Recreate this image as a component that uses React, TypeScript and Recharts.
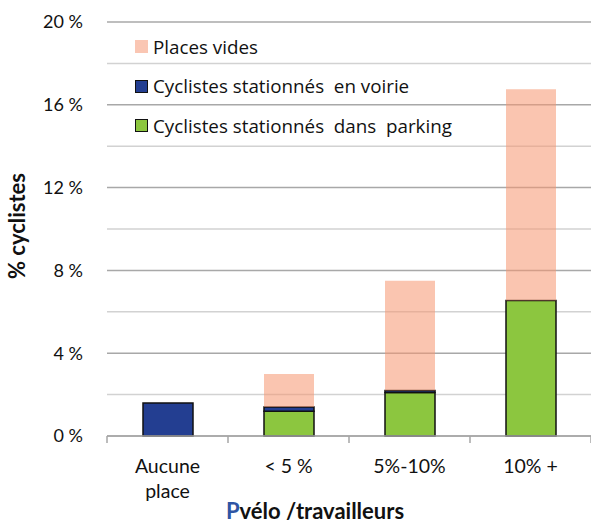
import { BarChart, Bar, XAxis, YAxis, CartesianGrid, Legend } from 'recharts';

const categories = ['Aucune place', '< 5 %', '5%-10%', '10% +'];
const parking = [0, 1.2, 2.1, 6.55];
const voirie = [1.6, 0.2, 0.1, 0];
const vides = [0, 1.6, 5.3, 10.2];
const yTicks = [0, 2, 4, 6, 8, 10, 12, 14, 16, 18, 20];

const data = categories.map((name, i) => ({
    name,
    parking: parking[i],
    voirie: voirie[i],
    vides: vides[i],
}));

const W = 591;
const H = 524;
const TOP = 22;
const Y_W = 107;
const X_H = 88;
const BAND = (W - Y_W) / categories.length;
const PX_PER_UNIT = (H - TOP - X_H) / 20;
const FONT = 'Lato, "Open Sans", sans-serif';
const LEGEND_FONT = '"Open Sans", Lato, sans-serif';

const legendItems = [
    { label: 'Places vides', fill: '#fac6b3', border: 'none' },
    { label: 'Cyclistes stationnés  en voirie', fill: '#233e91', border: '1.5px solid #111' },
    { label: 'Cyclistes stationnés  dans  parking', fill: '#8cc63f', border: '1.5px solid #111' },
];

const LegendBox = () => (
    <div style={{ fontFamily: LEGEND_FONT, fontSize: 18.8, color: '#111' }}>
        {legendItems.map((it) => (
            <div key={it.label} style={{ display: 'flex', alignItems: 'center', height: 39.5 }}>
                <span style={{ width: 13, height: 13, background: it.fill, border: it.border, boxSizing: 'border-box', marginRight: 5 }} />
                <span style={{ whiteSpace: 'pre' }}>{it.label}</span>
            </div>
        ))}
    </div>
);

const CatTick = (props: any) => {
    const { x, y, payload, index } = props;
    const words = payload.value === 'Aucune place' ? String(payload.value).split(' ') : [payload.value];
    return (
        <g>
            <line x1={x - BAND / 2} x2={x - BAND / 2} y1={y} y2={y + 7} stroke="#a6a6a6" strokeWidth={1.5} />
            {index === categories.length - 1 && (
                <line x1={x + BAND / 2} x2={x + BAND / 2} y1={y} y2={y + 7} stroke="#a6a6a6" strokeWidth={1.5} />
            )}
            <text textAnchor="middle" fontFamily={FONT} fontSize={19.5} fill="#111">
                {words.map((w: string, i: number) => (
                    <tspan key={i} x={x} y={y + 37 + i * 25}>{w}</tspan>
                ))}
            </text>
        </g>
    );
};

const gridLine = (props: any) => {
    const v = Math.round((H - X_H - props.y1) / PX_PER_UNIT);
    return (
        <line
            key={`g-${props.y1}`}
            x1={props.x1}
            x2={props.x2}
            y1={props.y1}
            y2={props.y2}
            stroke={v % 4 === 0 ? '#a8a8a8' : '#d2d2d2'}
            strokeWidth={1.5}
        />
    );
};

const XTitle = () => (
    <text x={315} y={519} textAnchor="middle" fontFamily={FONT} fontSize={22} fontWeight="bold" fill="#111">
        <tspan fill="#2f55a4">P</tspan>
        <tspan>vélo /travailleurs</tspan>
    </text>
);

export default function App() {
    return (
        <div style={{ position: 'absolute', left: 0, top: 0, background: '#fff' }}>
            <BarChart width={W} height={H} data={data} margin={{ top: TOP, right: 0, bottom: 0, left: 0 }}>
                <CartesianGrid vertical={false} horizontal={gridLine} />
                <XAxis
                    dataKey="name"
                    height={X_H}
                    tickLine={false}
                    tickSize={0}
                    tickMargin={0}
                    axisLine={{ stroke: '#a6a6a6', strokeWidth: 1.5 }}
                    tick={<CatTick />}
                    interval={0}
                    label={{ content: () => <XTitle /> }}
                />
                <YAxis
                    width={Y_W}
                    domain={[0, 20]}
                    ticks={yTicks}
                    interval={0}
                    axisLine={false}
                    tickLine={false}
                    tickSize={0}
                    tickMargin={24}
                    tick={{ fontFamily: FONT, fontSize: 18, fill: '#111' }}
                    tickFormatter={(v: number) => (v % 4 === 0 ? `${v} %` : '')}
                    label={{
                        value: '% cyclistes',
                        angle: -90,
                        position: 'insideLeft',
                        dx: 12,
                        dy: -3,
                        style: { fontFamily: FONT, fontSize: 22, fontWeight: 'bold', fill: '#111', textAnchor: 'middle' },
                    }}
                />
                <Legend
                    layout="vertical"
                    verticalAlign="middle"
                    align="center"
                    content={<LegendBox />}
                    wrapperStyle={{ left: 135, top: 27, width: 'auto' }}
                />
                <Bar dataKey="parking" stackId="a" fill="#8cc63f" stroke="#111" strokeWidth={1.5} barSize={50} isAnimationActive={false} />
                <Bar dataKey="voirie" stackId="a" fill="#233e91" stroke="#111" strokeWidth={1.5} barSize={50} isAnimationActive={false} />
                <Bar dataKey="vides" stackId="a" fill="#f5966f" fillOpacity={0.55} barSize={50} isAnimationActive={false} />
            </BarChart>
        </div>
    );
}
